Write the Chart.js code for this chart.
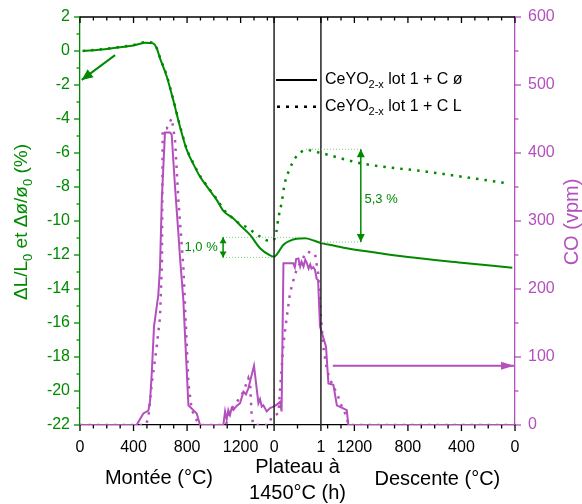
<!DOCTYPE html>
<html>
<head>
<meta charset="utf-8">
<script src="https://cdn.jsdelivr.net/npm/chart.js@4"></script>
<style>
  html, body { margin: 0; padding: 0; background: #fff; }
</style>
</head>
<body>
<canvas id="chart" width="582" height="504"></canvas>
<script>
// x is one composite axis: 0..1450 = montée (°C), 1450..1800 = plateau (0..1 h), 1800..3250 = descente (1450..0 °C)
const PLATEAU_START = 1450;
const PLATEAU_LEN = 350;

const monteeTicks = [0, 400, 800, 1200];
const plateauTicks = [0, 1];
const descenteTicks = [1200, 800, 400, 0];
const leftTicks = [-22, -20, -18, -16, -14, -12, -10, -8, -6, -4, -2, 0, 2];
const rightTicks = [0, 100, 200, 300, 400, 500, 600];

const seriesNames = ["CeYO2-x lot 1 + C ø", "CeYO2-x lot 1 + C L"];

// dilatation, lot 1 + C ø (solid)
const dilSolidX = [20, 100, 200, 300, 400, 486, 546, 573, 598, 648, 697, 747, 797, 850, 897, 960, 1021, 1071, 1146, 1196,
  1271, 1345, 1420, 1450, 1467, 1485, 1520, 1572, 1618, 1681, 1747, 1800, 1900, 1993, 2242, 2450, 2850, 3230];
const dilSolidY = [0, 0.05, 0.12, 0.22, 0.32, 0.49, 0.45, 0.16, -0.43, -1.5, -2.9, -4.45, -5.8, -6.7, -7.4, -8.1, -8.76, -9.4, -9.85, -10.25,
  -10.82, -11.6, -12.02, -12.1, -12.0, -11.8, -11.4, -11.15, -11.05, -11.02, -11.15, -11.3, -11.45, -11.6, -11.9, -12.12, -12.45, -12.75];

// dilatation, lot 1 + C L (dotted)
const dilDotX = [20, 100, 200, 300, 400, 486, 546, 573, 598, 648, 697, 747, 797, 850, 897, 960, 1021, 1071, 1121, 1183,
  1258, 1345, 1420, 1450, 1467, 1482, 1508, 1530, 1569, 1608, 1650, 1692, 1800, 1943, 2093, 2591, 3189];
const dilDotY = [0, 0.06, 0.14, 0.24, 0.35, 0.52, 0.47, 0.18, -0.4, -1.45, -2.85, -4.4, -5.75, -6.65, -7.35, -8.05, -8.7, -9.3, -9.7, -10.1,
  -10.43, -10.92, -11.18, -11.1, -10.63, -9.84, -8.86, -7.78, -6.9, -6.3, -5.95, -5.82, -6.0, -6.3, -6.6, -7.1, -7.78];

// CO (vpm), lot 1 + C ø (solid)
const coSolidX = [0, 423, 473, 511, 523, 536, 553, 585, 598, 611, 635, 673, 685, 710, 735, 747, 772, 810, 872, 897,
  1071, 1084, 1096, 1108, 1121, 1133, 1146, 1170, 1196, 1221, 1240, 1258, 1300, 1333, 1345, 1358, 1370, 1395, 1420, 1445,
  1470, 1495, 1506, 1520, 1593, 1605, 1615, 1632, 1645, 1656, 1670, 1683, 1695, 1708, 1720, 1730, 1743, 1756, 1768, 1779,
  1793, 1800, 1838, 1856, 1893, 1919, 1993, 2005, 3250];
const coSolidY = [0, 0, 17, 21, 34, 76, 145, 191, 233, 331, 430, 430, 427, 350, 282, 247, 184, 29, 17, 0,
  0, 20, 8, 22, 15, 25, 22, 28, 32, 49, 45, 54, 87, 32, 38, 27, 29, 20, 25, 27,
  30, 34, 20, 238, 238, 232, 244, 245, 233, 240, 233, 243, 238, 230, 236, 230, 232, 228, 215, 213,
  145, 140, 115, 61, 59, 29, 22, 0, 0];

// CO (vpm), lot 1 + C L (dotted)
const coDotX = [0, 490, 511, 536, 573, 598, 612, 618, 648, 685, 710, 735, 772, 810, 835, 872, 897, 1090, 1108, 1146,
  1183, 1221, 1258, 1271, 1283, 1296, 1410, 1432, 1482, 1520, 1545, 1569, 1608, 1643, 1695, 1756, 1779, 1800, 1818, 1844,
  1881, 1919, 1956, 1993, 2005, 3250];
const coDotY = [0, 0, 10, 61, 115, 159, 240, 434, 436, 451, 419, 331, 233, 61, 22, 7, 0, 0, 12, 27,
  37, 49, 69, 61, 12, 0, 0, 12, 17, 120, 159, 194, 223, 238, 255, 252, 223, 159, 115, 81,
  61, 47, 27, 12, 0, 0];

const GREEN = "#008a00";
const MAGENTA = "#b44fbe";
const FONT = "'Liberation Sans', Arial, sans-serif";

const fromPlateau = h => PLATEAU_START + h * PLATEAU_LEN;
const fromDescente = t => PLATEAU_START + PLATEAU_LEN + (PLATEAU_START - t);

const xMajor = new Map();
monteeTicks.forEach(t => xMajor.set(t, String(t)));
plateauTicks.forEach(h => xMajor.set(fromPlateau(h), String(h)));
descenteTicks.forEach(t => xMajor.set(fromDescente(t), String(t)));

const xMinor = [];
for (let t = 0; t < PLATEAU_START; t += 100) xMinor.push(t);
xMinor.push(fromPlateau(0.5));
for (let t = 1400; t >= 0; t -= 100) xMinor.push(fromDescente(t));
const xAll = Array.from(new Set([...xMinor, ...xMajor.keys()])).sort((a, b) => a - b);

const pts = (xs, ys) => xs.map((x, i) => ({ x: x, y: ys[i] }));

function arrowHead(ctx, x1, y1, x2, y2, len, half) {
  const a = Math.atan2(y2 - y1, x2 - x1);
  ctx.beginPath();
  ctx.moveTo(x2, y2);
  ctx.lineTo(x2 - len * Math.cos(a) + half * Math.sin(a), y2 - len * Math.sin(a) - half * Math.cos(a));
  ctx.lineTo(x2 - len * Math.cos(a) - half * Math.sin(a), y2 - len * Math.sin(a) + half * Math.cos(a));
  ctx.closePath();
  ctx.fill();
}

function arrow(ctx, x1, y1, x2, y2, color, width, len, half, both) {
  ctx.save();
  ctx.strokeStyle = color;
  ctx.fillStyle = color;
  ctx.lineWidth = width;
  ctx.beginPath();
  ctx.moveTo(x1, y1);
  ctx.lineTo(x2, y2);
  ctx.stroke();
  arrowHead(ctx, x1, y1, x2, y2, len, half);
  if (both) arrowHead(ctx, x2, y2, x1, y1, len, half);
  ctx.restore();
}

function dotted(ctx, x1, y1, x2, y2) {
  ctx.save();
  ctx.strokeStyle = "#7cc47c";
  ctx.lineWidth = 1;
  ctx.setLineDash([1, 2]);
  ctx.beginPath();
  ctx.moveTo(x1, y1);
  ctx.lineTo(x2, y2);
  ctx.stroke();
  ctx.restore();
}

// pieces: [text, isSub]
function richText(ctx, pieces, x, y, size, subSize, subDrop, align) {
  let total = 0;
  pieces.forEach(p => {
    ctx.font = (p[1] ? subSize : size) + "px " + FONT;
    total += ctx.measureText(p[0]).width;
  });
  let cx = align === "center" ? x - total / 2 : x;
  ctx.textAlign = "left";
  ctx.textBaseline = "middle";
  pieces.forEach(p => {
    ctx.font = (p[1] ? subSize : size) + "px " + FONT;
    ctx.fillText(p[0], cx, y + (p[1] ? subDrop : 0));
    cx += ctx.measureText(p[0]).width;
  });
}

const decorations = {
  id: "decorations",
  afterDatasetsDraw(chart) {
    const ctx = chart.ctx;
    const x = chart.scales.x, y = chart.scales.y, y1 = chart.scales.y1;
    const area = chart.chartArea;

    // plateau limits
    ctx.save();
    ctx.strokeStyle = "#222";
    ctx.lineWidth = 1.5;
    [PLATEAU_START, fromPlateau(1)].forEach(u => {
      const px = x.getPixelForValue(u);
      ctx.beginPath();
      ctx.moveTo(px, area.top);
      ctx.lineTo(px, area.bottom);
      ctx.stroke();
    });
    ctx.restore();

    // guide lines for the two gaps
    dotted(ctx, x.getPixelForValue(1069), y.getPixelForValue(-10.96), x.getPixelForValue(1667), y.getPixelForValue(-10.96));
    dotted(ctx, x.getPixelForValue(1069), y.getPixelForValue(-12.14), x.getPixelForValue(1435), y.getPixelForValue(-12.14));
    dotted(ctx, x.getPixelForValue(1689), y.getPixelForValue(-5.78), x.getPixelForValue(2098), y.getPixelForValue(-5.78));
    dotted(ctx, x.getPixelForValue(1800), y.getPixelForValue(-11.24), x.getPixelForValue(2098), y.getPixelForValue(-11.24));

    const ax1 = x.getPixelForValue(1069);
    arrow(ctx, ax1, y.getPixelForValue(-10.96), ax1, y.getPixelForValue(-12.14), GREEN, 1.5, 6, 3.5, true);
    const ax2 = x.getPixelForValue(2098);
    arrow(ctx, ax2, y.getPixelForValue(-5.78), ax2, y.getPixelForValue(-11.24), GREEN, 1.5, 8, 4, true);

    ctx.fillStyle = GREEN;
    ctx.font = "13px " + FONT;
    ctx.textAlign = "center";
    ctx.textBaseline = "middle";
    ctx.fillText("1,0 %", x.getPixelForValue(905), y.getPixelForValue(-11.55));
    ctx.fillText("5,3 %", x.getPixelForValue(2250), y.getPixelForValue(-8.75));

    // axis pointers
    arrow(ctx, x.getPixelForValue(262), y.getPixelForValue(-0.24), x.getPixelForValue(13), y.getPixelForValue(-1.7), GREEN, 2, 11, 5, false);
    arrow(ctx, x.getPixelForValue(1889), y1.getPixelForValue(87), x.getPixelForValue(3243), y1.getPixelForValue(87), MAGENTA, 2, 13, 4, false);

    // legend
    const lx = 276, ly = 80, gap = 26.7;
    ctx.save();
    ctx.strokeStyle = "#000";
    ctx.lineWidth = 2;
    ctx.beginPath();
    ctx.moveTo(lx, ly);
    ctx.lineTo(lx + 41, ly);
    ctx.stroke();
    ctx.setLineDash([3, 6]);
    ctx.lineWidth = 2.5;
    ctx.beginPath();
    ctx.moveTo(lx + 1, ly + gap);
    ctx.lineTo(lx + 41, ly + gap);
    ctx.stroke();
    ctx.restore();
    ctx.fillStyle = "#000";
    seriesNames.forEach((name, i) => {
      const tail = name.slice(name.indexOf(" "));
      richText(ctx, [["CeYO", false], ["2-x", true], [tail, false]], 325, ly + i * gap, 16, 11, 5, "left");
    });
  },
  afterDraw(chart) {
    const ctx = chart.ctx;
    const x = chart.scales.x, y = chart.scales.y, y1 = chart.scales.y1;
    const area = chart.chartArea;

    ctx.save();
    ctx.lineWidth = 1.3;
    // top frame
    ctx.strokeStyle = "#000";
    ctx.beginPath();
    ctx.moveTo(area.left, area.top);
    ctx.lineTo(area.right, area.top);
    ctx.stroke();
    // x tick marks, bottom (outward) and top (inward)
    xAll.forEach(u => {
      const px = x.getPixelForValue(u);
      const len = xMajor.has(u) ? 6 : 3.5;
      ctx.beginPath();
      ctx.moveTo(px, area.bottom);
      ctx.lineTo(px, area.bottom + len);
      ctx.moveTo(px, area.top);
      ctx.lineTo(px, area.top + len);
      ctx.stroke();
    });
    // left ticks
    ctx.strokeStyle = GREEN;
    for (let v = -22; v <= 2; v += 1) {
      const py = y.getPixelForValue(v);
      const len = leftTicks.includes(v) ? 6 : 3.5;
      ctx.beginPath();
      ctx.moveTo(area.left, py);
      ctx.lineTo(area.left - len, py);
      ctx.stroke();
    }
    // right ticks
    ctx.strokeStyle = MAGENTA;
    for (let v = 0; v <= 600; v += 50) {
      const py = y1.getPixelForValue(v);
      const len = rightTicks.includes(v) ? 6 : 3.5;
      ctx.beginPath();
      ctx.moveTo(area.right, py);
      ctx.lineTo(area.right + len, py);
      ctx.stroke();
    }
    ctx.restore();

    // x titles
    ctx.fillStyle = "#000";
    ctx.textAlign = "center";
    ctx.textBaseline = "middle";
    ctx.font = "20px " + FONT;
    ctx.fillText("Montée (°C)", x.getPixelForValue(590), 478);
    ctx.fillText("Plateau à", x.getPixelForValue(fromPlateau(0.5)), 467);
    ctx.fillText("1450°C (h)", x.getPixelForValue(fromPlateau(0.5)), 493);
    ctx.fillText("Descente (°C)", x.getPixelForValue(fromDescente(580)), 479);

    // y titles
    ctx.save();
    ctx.translate(22, 222);
    ctx.rotate(-Math.PI / 2);
    ctx.fillStyle = GREEN;
    richText(ctx, [["ΔL/L", false], ["0", true], [" et Δø/ø", false], ["0", true], [" (%)", false]], 0, 0, 19, 13, 6, "center");
    ctx.restore();

    ctx.save();
    ctx.translate(572, 222);
    ctx.rotate(-Math.PI / 2);
    ctx.fillStyle = MAGENTA;
    ctx.font = "20px " + FONT;
    ctx.textAlign = "center";
    ctx.textBaseline = "middle";
    ctx.fillText("CO (vpm)", 0, 0);
    ctx.restore();
  }
};

const noPad = scale => { scale.paddingTop = 0; scale.paddingBottom = 0; scale.paddingLeft = 0; scale.paddingRight = 0; };

new Chart(document.getElementById("chart"), {
  type: "line",
  data: {
    datasets: [
      {
        label: seriesNames[0] + " dilatation",
        data: pts(dilSolidX, dilSolidY),
        borderColor: GREEN,
        borderWidth: 2,
        pointRadius: 0,
        cubicInterpolationMode: "monotone",
        yAxisID: "y"
      },
      {
        label: seriesNames[1] + " dilatation",
        data: pts(dilDotX, dilDotY),
        borderColor: GREEN,
        borderWidth: 2.5,
        borderDash: [2.5, 6],
        pointRadius: 0,
        cubicInterpolationMode: "monotone",
        yAxisID: "y"
      },
      {
        label: seriesNames[0] + " CO",
        data: pts(coSolidX, coSolidY),
        borderColor: MAGENTA,
        borderWidth: 2,
        pointRadius: 0,
        tension: 0,
        yAxisID: "y1"
      },
      {
        label: seriesNames[1] + " CO",
        data: pts(coDotX, coDotY),
        borderColor: MAGENTA,
        borderWidth: 2.5,
        borderDash: [2.5, 6],
        pointRadius: 0,
        tension: 0,
        yAxisID: "y1"
      }
    ]
  },
  options: {
    responsive: false,
    animation: false,
    layout: { padding: { top: 17, left: 0, right: 0, bottom: 0 } },
    plugins: {
      legend: { display: false },
      tooltip: { enabled: false }
    },
    scales: {
      x: {
        type: "linear",
        position: "bottom",
        min: 0,
        max: fromDescente(0),
        afterBuildTicks: scale => { scale.ticks = xAll.map(v => ({ value: v })); },
        afterFit: scale => { scale.height = 79; noPad(scale); },
        grid: { display: false, drawTicks: false },
        border: { display: true, color: "#000", width: 1.3 },
        ticks: {
          autoSkip: false,
          maxRotation: 0,
          padding: 13,
          color: "#000",
          font: { family: FONT, size: 16 },
          callback: v => xMajor.has(v) ? xMajor.get(v) : ""
        }
      },
      y: {
        position: "left",
        min: -22,
        max: 2,
        afterBuildTicks: scale => { scale.ticks = leftTicks.map(v => ({ value: v })); },
        afterFit: scale => { scale.width = 80; noPad(scale); },
        grid: { display: false, drawTicks: false },
        border: { display: true, color: GREEN, width: 1.3 },
        ticks: {
          padding: 10,
          color: GREEN,
          font: { family: FONT, size: 16 }
        }
      },
      y1: {
        position: "right",
        min: 0,
        max: 600,
        afterBuildTicks: scale => { scale.ticks = rightTicks.map(v => ({ value: v })); },
        afterFit: scale => { scale.width = 67; noPad(scale); },
        grid: { display: false, drawTicks: false },
        border: { display: true, color: MAGENTA, width: 1.3 },
        ticks: {
          padding: 13,
          color: MAGENTA,
          font: { family: FONT, size: 16 }
        }
      }
    }
  },
  plugins: [decorations]
});
</script>
</body>
</html>
